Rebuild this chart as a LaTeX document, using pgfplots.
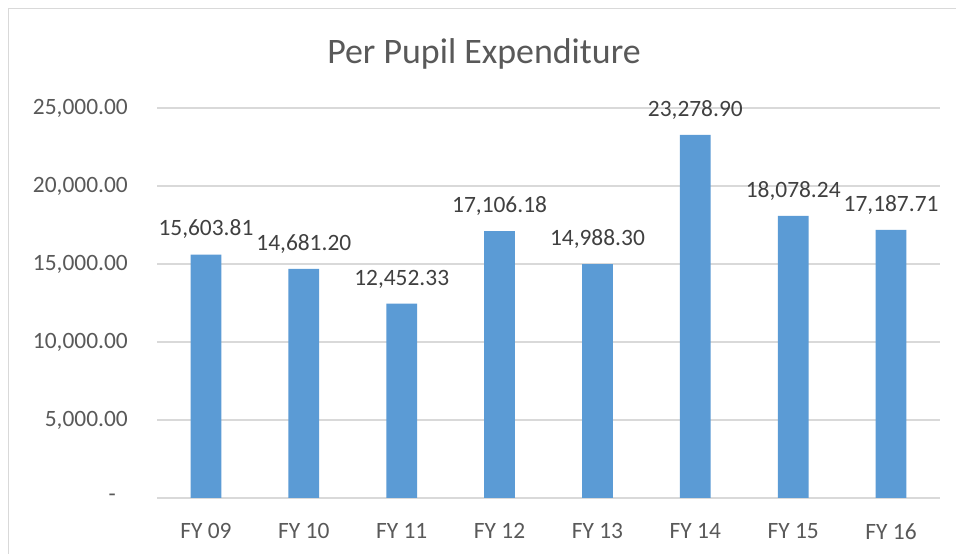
\documentclass[border=0pt]{standalone}
\usepackage{fontspec}
\setmainfont{Carlito}
\usepackage{pgfplots}
\pgfplotsset{compat=1.18}
\usepackage{pgfplotstable}
\definecolor{barblue}{HTML}{5B9BD5}
\definecolor{gridgray}{HTML}{D9D9D9}
\definecolor{ticktext}{HTML}{595959}
\definecolor{labeltext}{HTML}{404040}
\pgfplotstableread{
x y label
0 15603.81 15,603.81
1 14681.20 14,681.20
2 12452.33 12,452.33
3 17106.18 17,106.18
4 14988.30 14,988.30
5 23278.90 23,278.90
6 18078.24 18,078.24
7 17187.71 17,187.71
}\datatable
\begin{document}
\begin{tikzpicture}[x=1bp,y=1bp]
\path[use as bounding box, fill=white] (0,0) rectangle (956,554);
\draw[gridgray, line width=1.5bp] (8.5,0) -- (8.5,545.5) -- (956,545.5);
\node[anchor=base, text=ticktext, font=\fontsize{36}{40}\selectfont] at (484,490) {Per Pupil Expenditure};
\begin{axis}[
  at={(157bp,56bp)}, anchor=south west,
  scale only axis, width=783bp, height=390bp,
  xmin=-0.5, xmax=7.5, ymin=0, ymax=25000,
  clip=false,
  ybar, bar width=30.7bp,
  axis line style={draw=none},
  major tick style={draw=none},
  ymajorgrids,
  major grid style={draw=gridgray, line width=1.5bp},
  scaled y ticks=false,
  xtick={0,...,7},
  xticklabels={FY 09,FY 10,FY 11,FY 12,FY 13,FY 14,FY 15,FY 16},
  ytick={0,5000,10000,15000,20000,25000},
  yticklabels={{-\hspace*{12bp}},{5,000.00},{10,000.00},{15,000.00},{20,000.00},{25,000.00}},
  /pgf/number format/assume math mode=true,
  xticklabel style={anchor=north, inner sep=0pt, yshift=-21bp, text=ticktext, font=\fontsize{23.5}{28}\selectfont},
  yticklabel style={anchor=east, inner sep=0pt, xshift=-29bp, text=ticktext, font=\fontsize{23.5}{28}\selectfont},
  point meta=explicit symbolic,
  nodes near coords={\pgfplotspointmeta},
  nodes near coords style={anchor=south, inner sep=0pt, yshift=15.5bp, text=labeltext, font=\fontsize{23.5}{28}\selectfont},
]
\addplot[fill=barblue, draw=none] table[x=x, y=y, meta=label] {\datatable};
\end{axis}
\end{tikzpicture}
\end{document}
